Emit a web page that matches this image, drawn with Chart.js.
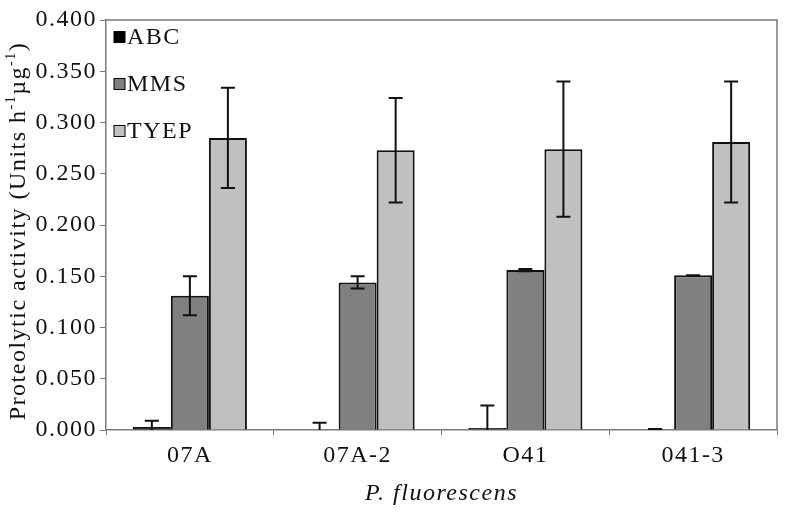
<!DOCTYPE html>
<html>
<head>
<meta charset="utf-8">
<script src="https://cdn.jsdelivr.net/npm/chart.js@4.4.1/dist/chart.umd.min.js"></script>
<style>
  html, body { margin: 0; padding: 0; background: #fff; }
  #wrap { width: 786px; height: 513px; }
</style>
</head>
<body>
<div id="wrap"><canvas id="chart" width="786" height="513"></canvas></div>
<script>
// Data
const strains = ["07A", "07A-2", "O41", "041-3"];
const abc = [0.003, 0.000, 0.002, 0.000];
const abcErr = [0.006, 0.007, 0.022, 0.001];
const mms = [0.131, 0.144, 0.156, 0.151];
const mmsErr = [0.019, 0.006, 0.001, 0];
const tyep = [0.285, 0.273, 0.274, 0.281];
const tyepErr = [0.049, 0.051, 0.066, 0.059];
const yTicks = [0, 0.05, 0.1, 0.15, 0.2, 0.25, 0.3, 0.35, 0.4];

const FONT = "'Liberation Serif', 'Times New Roman', serif";
const AXIS_GRAY = "#7a7a7a";

// wider tracking like the original figure
const spacingPlugin = {
  id: "spacing",
  beforeLayout(chart) { chart.ctx.letterSpacing = "1.5px"; },
  beforeDraw(chart) { chart.ctx.letterSpacing = "1.5px"; },
};

// error bars, frame, legend and axis titles
const extrasPlugin = {
  id: "extras",
  afterDatasetsDraw(chart) {
    const ctx = chart.ctx;
    const y = chart.scales.y;
    const area = chart.chartArea;
    ctx.save();
    ctx.beginPath();
    ctx.rect(area.left, area.top, area.right - area.left, area.bottom - area.top);
    ctx.clip();
    ctx.strokeStyle = "#111";
    ctx.lineWidth = 2;
    chart.data.datasets.forEach((ds, i) => {
      const meta = chart.getDatasetMeta(i);
      meta.data.forEach((bar, j) => {
        const e = ds.errors[j];
        const v = ds.data[j];
        const yTop = y.getPixelForValue(v + e);
        const yBot = y.getPixelForValue(Math.max(v - e, 0));
        ctx.beginPath();
        ctx.moveTo(bar.x, yTop);
        ctx.lineTo(bar.x, yBot);
        ctx.moveTo(bar.x - 7, yTop);
        ctx.lineTo(bar.x + 7, yTop);
        if (v - e > 0) {
          ctx.moveTo(bar.x - 7, yBot);
          ctx.lineTo(bar.x + 7, yBot);
        }
        ctx.stroke();
      });
    });
    ctx.restore();
  },
  afterDraw(chart) {
    const ctx = chart.ctx;
    const area = chart.chartArea;
    ctx.save();
    ctx.letterSpacing = "1.5px";

    // top and right frame
    ctx.strokeStyle = AXIS_GRAY;
    ctx.lineWidth = 1.5;
    ctx.beginPath();
    ctx.moveTo(area.left, area.top);
    ctx.lineTo(area.right, area.top);
    ctx.lineTo(area.right, area.bottom);
    ctx.stroke();

    // legend
    ctx.font = "24px " + FONT;
    ctx.textBaseline = "middle";
    ctx.textAlign = "left";
    chart.data.datasets.forEach((ds, i) => {
      const ly = area.top + 17 + i * 47;
      ctx.fillStyle = ds.backgroundColor;
      ctx.fillRect(area.left + 8, ly - 5.5, 11, 11);
      ctx.strokeStyle = "#000";
      ctx.lineWidth = 1;
      ctx.strokeRect(area.left + 8, ly - 5.5, 11, 11);
      ctx.fillStyle = "#111";
      ctx.fillText(ds.label, area.left + 21, ly + 1);
    });

    // x title
    ctx.font = "italic 24px " + FONT;
    ctx.textAlign = "center";
    ctx.fillText("P. fluorescens", (area.left + area.right) / 2, 494);

    // y title with superscripts
    const parts = [
      ["Proteolytic activity (Units h", false],
      ["-1", true],
      ["\u00b5g", false],
      ["-1", true],
      [")", false],
    ];
    const big = "24px " + FONT;
    const small = "14px " + FONT;
    let total = 0;
    parts.forEach(([t, sup]) => {
      ctx.font = sup ? small : big;
      total += ctx.measureText(t).width;
    });
    ctx.translate(18, (area.top + area.bottom) / 2 + 6);
    ctx.rotate(-Math.PI / 2);
    ctx.textAlign = "left";
    let x = -total / 2;
    parts.forEach(([t, sup]) => {
      ctx.font = sup ? small : big;
      ctx.fillText(t, x, sup ? -7 : 1);
      x += ctx.measureText(t).width;
    });
    ctx.restore();
  },
};

new Chart(document.getElementById("chart"), {
  type: "bar",
  data: {
    labels: strains,
    datasets: [
      { label: "ABC", data: abc, errors: abcErr, backgroundColor: "#000000" },
      { label: "MMS", data: mms, errors: mmsErr, backgroundColor: "#808080" },
      { label: "TYEP", data: tyep, errors: tyepErr, backgroundColor: "#c0c0c0" },
    ],
  },
  options: {
    responsive: false,
    animation: false,
    events: [],
    layout: { padding: { top: 20, right: 9, bottom: 0, left: 0 } },
    datasets: {
      bar: {
        categoryPercentage: 0.68,
        barPercentage: 1.0,
        borderColor: "#111",
        borderWidth: 2,
      },
    },
    scales: {
      x: {
        grid: {
          offset: true,
          drawOnChartArea: false,
          drawTicks: true,
          tickLength: 5,
          color: AXIS_GRAY,
        },
        border: { color: AXIS_GRAY, width: 1.5 },
        ticks: {
          color: "#111",
          font: { family: FONT, size: 24 },
          padding: 6,
          maxRotation: 0,
        },
        afterFit(scale) { scale.height = 83; },
      },
      y: {
        min: 0,
        max: 0.4,
        afterBuildTicks(scale) {
          scale.ticks = yTicks.map((v) => ({ value: v }));
        },
        grid: {
          drawOnChartArea: false,
          drawTicks: true,
          tickLength: 6,
          color: AXIS_GRAY,
        },
        border: { color: AXIS_GRAY, width: 1.5 },
        ticks: {
          color: "#111",
          font: { family: FONT, size: 24 },
          padding: 3,
          callback: (v) => Number(v).toFixed(3),
        },
        afterFit(scale) { scale.width = 106; },
      },
    },
    plugins: {
      legend: { display: false },
      tooltip: { enabled: false },
    },
  },
  plugins: [spacingPlugin, extrasPlugin],
});
</script>
</body>
</html>
